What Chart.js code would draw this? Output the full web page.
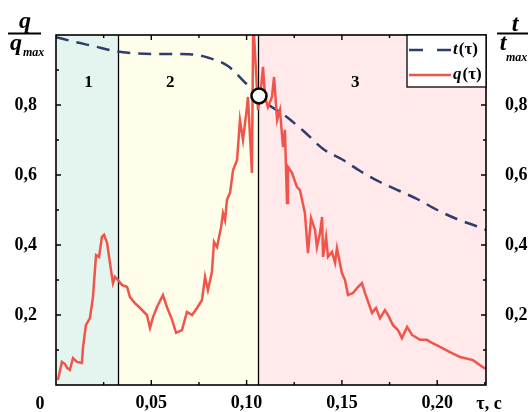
<!DOCTYPE html>
<html lang="ru">
<head>
  <meta charset="UTF-8" />
  <title>q(τ) и t(τ)</title>
  <script src="https://cdn.jsdelivr.net/npm/chart.js"></script>
  <style>
    body { margin: 0; background: #ffffff; }
    #wrap { width: 531px; height: 412px; }
  </style>
</head>
<body>
  <div id="wrap"><canvas id="chart" width="531" height="412"></canvas></div>

  <script>
    // q(τ)/q_max
    const qTau = [0.001, 0.0031, 0.0047, 0.0058, 0.0073, 0.0089, 0.011, 0.0136, 0.0142, 0.0157,
      0.0178, 0.0194, 0.021, 0.0226, 0.0241, 0.0252, 0.0268, 0.0283, 0.0299, 0.031,
      0.0325, 0.0346, 0.0373, 0.0388, 0.0414, 0.0441, 0.0477, 0.0493, 0.0509, 0.053,
      0.0561, 0.0582, 0.0609, 0.063, 0.0661, 0.0687, 0.0714, 0.074, 0.0766, 0.0782,
      0.0797, 0.0818, 0.0829, 0.0845, 0.0866, 0.0876, 0.0887, 0.0897, 0.0913, 0.0929,
      0.095, 0.0965, 0.0981, 0.1002, 0.1007, 0.1028, 0.1034, 0.1039, 0.1049, 0.106,
      0.1076, 0.1086, 0.1097, 0.1112, 0.1133, 0.1144, 0.116, 0.1175, 0.1191, 0.1201,
      0.1212, 0.1217, 0.1238, 0.1264, 0.128, 0.1306, 0.1322, 0.1338, 0.1359, 0.1369,
      0.1385, 0.1396, 0.1401, 0.1417, 0.1427, 0.1448, 0.1464, 0.1474, 0.15, 0.1516,
      0.1532, 0.1558, 0.1584, 0.1605, 0.1621, 0.1658, 0.1679, 0.17, 0.1726, 0.1742,
      0.1768, 0.1794, 0.1815, 0.1842, 0.1868, 0.191, 0.1946, 0.1973, 0.2015, 0.2067,
      0.212, 0.2188, 0.224, 0.2256];
    const qVal = [0.014, 0.066, 0.06, 0.049, 0.043, 0.077, 0.066, 0.063, 0.109, 0.171,
      0.191, 0.251, 0.371, 0.366, 0.423, 0.429, 0.406, 0.349, 0.291, 0.309,
      0.3, 0.286, 0.28, 0.251, 0.234, 0.22, 0.2, 0.163, 0.194, 0.223,
      0.257, 0.223, 0.186, 0.149, 0.157, 0.209, 0.2, 0.22, 0.243, 0.309,
      0.271, 0.323, 0.409, 0.394, 0.451, 0.491, 0.471, 0.529, 0.549, 0.614,
      0.643, 0.757, 0.7, 0.794, 0.823, 0.606, 0.994, 1.0, 0.9, 0.786,
      0.851, 0.909, 0.823, 0.794, 0.823, 0.88, 0.757, 0.786, 0.68, 0.729,
      0.52, 0.623, 0.606, 0.566, 0.557, 0.491, 0.377, 0.477, 0.443, 0.394,
      0.434, 0.48, 0.366, 0.423, 0.366, 0.38, 0.349, 0.391, 0.32, 0.3,
      0.257, 0.263, 0.28, 0.291, 0.263, 0.206, 0.22, 0.191, 0.214, 0.2,
      0.171, 0.157, 0.134, 0.166, 0.143, 0.129, 0.129, 0.12, 0.109, 0.094,
      0.08, 0.071, 0.051, 0.046];

    // t(τ)/t_max
    const tTau = [0, 0.01, 0.02, 0.03, 0.04, 0.05, 0.06, 0.07, 0.08, 0.09, 0.10, 0.11,
      0.12, 0.13, 0.14, 0.15, 0.16, 0.17, 0.18, 0.19, 0.20, 0.21, 0.22, 0.2256];
    const tVal = [0.994, 0.98, 0.968, 0.955, 0.948, 0.946, 0.946, 0.945, 0.935, 0.912, 0.86, 0.807,
      0.77, 0.725, 0.675, 0.645, 0.61, 0.58, 0.555, 0.53, 0.5, 0.475, 0.455, 0.443];

    // intersection marker
    const markTau = [0.1065];
    const markVal = [0.826];

    // zones 1, 2, 3
    const zoneEdges = [0, 0.0325, 0.106, 0.2256];
    const zoneNames = ['1', '2', '3'];
    const zoneColors = ['#e3f5ee', '#fffeea', '#ffe9ea'];

    const xTicks = [0.05, 0.10, 0.15, 0.20];
    const yTicks = [0.2, 0.4, 0.6, 0.8];

    const FONT = "'Liberation Serif', 'Times New Roman', serif";
    const RED = '#f0544a';
    const NAVY = '#2f3c6c';

    const pts = (xs, ys) => xs.map((x, i) => ({ x: x, y: ys[i] }));

    const zonesPlugin = {
      id: 'zones',
      beforeDatasetsDraw(chart) {
        const { ctx, chartArea: a, scales: { x } } = chart;
        ctx.save();
        for (let i = 0; i < zoneNames.length; i++) {
          const x0 = x.getPixelForValue(zoneEdges[i]);
          const x1 = x.getPixelForValue(zoneEdges[i + 1]);
          ctx.fillStyle = zoneColors[i];
          ctx.fillRect(x0, a.top, x1 - x0, a.bottom - a.top);
        }
        ctx.strokeStyle = '#000';
        ctx.lineWidth = 1.3;
        for (let i = 1; i < zoneEdges.length - 1; i++) {
          const px = Math.round(x.getPixelForValue(zoneEdges[i])) + 0.5;
          ctx.beginPath();
          ctx.moveTo(px, a.top);
          ctx.lineTo(px, a.bottom);
          ctx.stroke();
        }
        ctx.fillStyle = '#000';
        ctx.font = 'bold 17px ' + FONT;
        ctx.textAlign = 'center';
        ctx.textBaseline = 'middle';
        const namePos = [0.017, 0.06, 0.157];
        namePos.forEach((v, i) => ctx.fillText(zoneNames[i], x.getPixelForValue(v), 83));
        ctx.restore();
      },
      afterDatasetsDraw(chart) {
        const { ctx, chartArea: a, scales: { x, y } } = chart;
        ctx.save();
        // frame
        ctx.strokeStyle = '#000';
        ctx.lineWidth = 1.6;
        ctx.strokeRect(a.left, a.top, a.right - a.left, a.bottom - a.top);
        // inner ticks
        ctx.lineWidth = 1.4;
        ctx.beginPath();
        for (let v = 0.025; v < 0.226; v += 0.025) {
          const px = x.getPixelForValue(v);
          const len = Math.abs(v / 0.05 - Math.round(v / 0.05)) < 1e-6 ? 5 : 3;
          ctx.moveTo(px, a.bottom); ctx.lineTo(px, a.bottom - len);
          ctx.moveTo(px, a.top); ctx.lineTo(px, a.top + len);
        }
        for (let k = 1; k < 10; k++) {
          const py = y.getPixelForValue(k / 10);
          const len = k % 2 === 0 ? 5 : 3;
          ctx.moveTo(a.left, py); ctx.lineTo(a.left + len, py);
          ctx.moveTo(a.right, py); ctx.lineTo(a.right - len, py);
        }
        ctx.stroke();

        // legend
        const lx = 407, ly = a.top, lw = a.right - 407, lh = 52;
        ctx.fillStyle = '#fff';
        ctx.fillRect(lx, ly, lw, lh);
        ctx.lineWidth = 1.3;
        ctx.strokeRect(lx, ly, lw, lh);
        ctx.lineWidth = 2.5;
        ctx.strokeStyle = NAVY;
        ctx.setLineDash([14, 14]);
        ctx.beginPath(); ctx.moveTo(409, ly + 15); ctx.lineTo(451, ly + 15); ctx.stroke();
        ctx.setLineDash([]);
        ctx.strokeStyle = RED;
        ctx.beginPath(); ctx.moveTo(409, ly + 40); ctx.lineTo(451, ly + 40); ctx.stroke();
        ctx.fillStyle = '#000';
        ctx.textBaseline = 'middle';
        ctx.textAlign = 'left';
        [['t', ly + 15], ['q', ly + 40]].forEach(([s, yy]) => {
          ctx.font = 'italic bold 17px ' + FONT;
          ctx.fillText(s, 453, yy);
          const w = ctx.measureText(s).width;
          ctx.font = 'bold 17px ' + FONT;
          ctx.fillText('(τ)', 453 + w + 1, yy);
        });
        ctx.restore();
      },
      afterDraw(chart) {
        const { ctx } = chart;
        ctx.save();
        ctx.fillStyle = '#000';
        ctx.strokeStyle = '#000';
        ctx.textBaseline = 'middle';
        ctx.textAlign = 'center';
        ctx.font = 'bold 18px ' + FONT;
        ctx.fillText('0', 40, 404);
        ctx.fillText('τ, с', 489, 404);
        // axis title fractions
        ctx.lineWidth = 2;
        ctx.beginPath();
        ctx.moveTo(8, 33.5); ctx.lineTo(41, 33.5);
        ctx.moveTo(497, 33.5); ctx.lineTo(528, 33.5);
        ctx.stroke();
        ctx.font = 'italic bold 24px ' + FONT;
        ctx.textBaseline = 'alphabetic';
        ctx.fillText('q', 25, 28);
        ctx.fillText('q', 16, 50);
        ctx.fillText('t', 515, 31);
        ctx.fillText('t', 503, 50);
        ctx.font = 'italic bold 12px ' + FONT;
        ctx.textAlign = 'left';
        ctx.fillText('max', 23, 56);
        ctx.fillText('max', 506, 61);
        ctx.restore();
      }
    };

    new Chart(document.getElementById('chart'), {
      type: 'line',
      data: {
        datasets: [
          {
            label: 'mark',
            data: pts(markTau, markVal),
            showLine: false,
            pointRadius: 7.5,
            pointBackgroundColor: '#fff',
            pointBorderColor: '#000',
            pointBorderWidth: 2.5
          },
          {
            label: 'q(τ)',
            data: pts(qTau, qVal),
            borderColor: RED,
            borderWidth: 2.5,
            pointRadius: 0,
            tension: 0
          },
          {
            label: 't(τ)',
            data: pts(tTau, tVal),
            borderColor: NAVY,
            borderWidth: 2.5,
            borderDash: [13, 8],
            pointRadius: 0,
            cubicInterpolationMode: 'monotone'
          }
        ]
      },
      options: {
        responsive: false,
        animation: false,
        layout: { padding: { top: 35, left: 0, right: 0, bottom: 0 } },
        plugins: { legend: { display: false }, tooltip: { enabled: false } },
        scales: {
          x: {
            type: 'linear',
            min: 0,
            max: 0.2256,
            grid: { display: false },
            border: { display: false },
            afterBuildTicks: s => { s.ticks = xTicks.map(v => ({ value: v })); },
            afterFit: s => { s.height = 27; },
            ticks: {
              padding: 0,
              color: '#000',
              font: { family: FONT, size: 18, weight: 'bold' },
              maxRotation: 0,
              callback: v => v.toFixed(2).replace('.', ',')
            }
          },
          y: {
            position: 'left',
            min: 0,
            max: 1,
            grid: { display: false },
            border: { display: false },
            afterBuildTicks: s => { s.ticks = yTicks.map(v => ({ value: v })); },
            afterFit: s => { s.width = 56; },
            ticks: {
              padding: 11,
              color: '#000',
              font: { family: FONT, size: 18, weight: 'bold' },
              callback: v => v.toFixed(1).replace('.', ',')
            }
          },
          y2: {
            position: 'right',
            min: 0,
            max: 1,
            grid: { display: false },
            border: { display: false },
            afterBuildTicks: s => { s.ticks = yTicks.map(v => ({ value: v })); },
            afterFit: s => { s.width = 45; },
            ticks: {
              padding: 11,
              color: '#000',
              font: { family: FONT, size: 18, weight: 'bold' },
              callback: v => v.toFixed(1).replace('.', ',')
            }
          }
        }
      },
      plugins: [zonesPlugin]
    });
  </script>
</body>
</html>
